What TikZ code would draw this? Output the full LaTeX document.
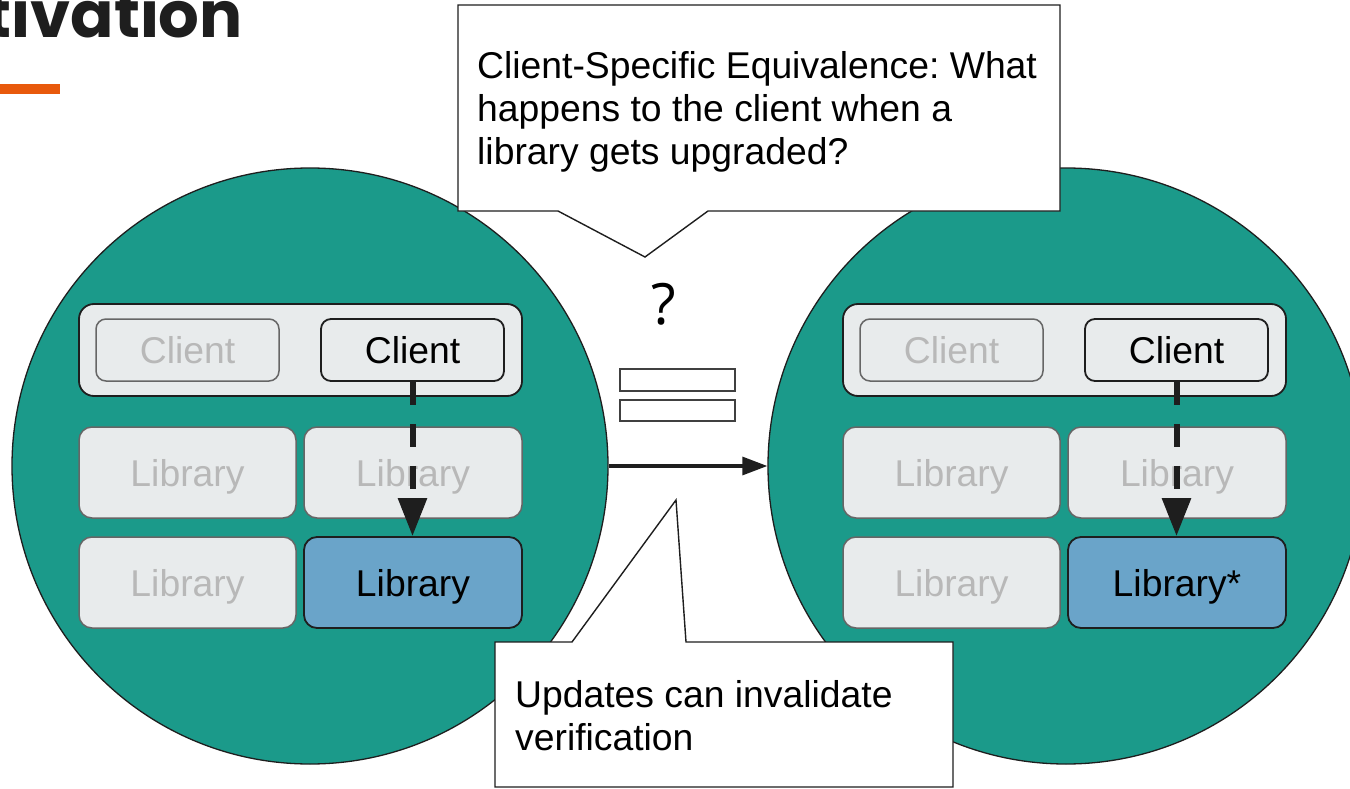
\documentclass[tikz,border=0pt]{standalone}
\usepackage{fontspec}
\setmainfont{Liberation Sans}
\newfontfamily\titlefont{Poppins}
\newfontfamily\qmarkfont{Open Sans}
\usetikzlibrary{arrows.meta}
\frenchspacing

\definecolor{teal}{RGB}{27,154,138}
\definecolor{boxfill}{RGB}{232,235,236}
\definecolor{fadetext}{RGB}{184,184,184}
\definecolor{fadeedge}{RGB}{102,102,102}
\definecolor{ink}{RGB}{30,30,30}
\definecolor{libblue}{RGB}{106,164,201}
\definecolor{accent}{RGB}{232,89,12}

\tikzset{
  label font/.style={font=\fontsize{37.3}{43}\selectfont},
  world/.style={circle, fill=teal, draw=ink, line width=1.3pt,
    minimum size=596pt, inner sep=0pt},
  container/.style={rectangle, rounded corners=15pt, draw=ink, fill=boxfill,
    line width=1.8pt, minimum width=443pt, minimum height=92pt, inner sep=0pt},
  modbox/.style={rectangle, rounded corners=13pt, draw=fadeedge, fill=boxfill,
    line width=1.5pt, text=fadetext, label font, inner sep=0pt,
    text height=27pt, text depth=0pt,
    minimum width=217pt, minimum height=91pt},
  clientbox/.style={modbox, rounded corners=10pt,
    minimum width=183pt, minimum height=62pt},
  active/.style={draw=ink, text=black, line width=1.8pt},
  picked/.style={active, fill=libblue},
  deplink/.style={draw=ink, line width=6pt, dash pattern=on 23pt off 19pt,
    -{Triangle[length=38pt,width=28pt]}},
  steplink/.style={draw=ink, line width=3.2pt,
    -{Triangle[length=25pt,width=18pt]}},
  bubble/.style={fill=white, draw=ink, line width=1.4pt, line join=miter},
  eqbar/.style={rectangle, draw=ink!85, fill=white, line width=1.6pt,
    minimum width=115pt, minimum height=21pt, inner sep=0pt},
  note/.style={label font, text=black, align=left, inner sep=0pt}
}

\begin{document}
\begin{tikzpicture}[x=1pt, y=-1pt]
\useasboundingbox (0,0) rectangle (1350,789);
\fill[white] (0,0) rectangle (1350,789);

% slide heading and accent bar
\node[font=\titlefont\bfseries\fontsize{64}{64}\selectfont, text=ink,
  anchor=base east, inner sep=0pt] (title) at (243,38) {tivation};
\fill[accent] (0,84) rectangle (60,94);

% the two worlds
\node[world] (lc) at (310,466) {};
\node[world] (rc) at (1066,466) {};

% before the upgrade
\node[container] (lcont) at (300.5,350) {};
\node[clientbox] (lcg) at (187.5,350) {Client};
\node[clientbox, active] (lcli) at (412.5,350) {Client};
\node[modbox] (l11) at (187.5,472.5) {Library};
\node[modbox, minimum width=218pt] (l12) at (413,472.5) {Library};
\node[modbox] (l21) at (187.5,582.5) {Library};
\node[modbox, picked, minimum width=218pt] (l22) at (413,582.5) {Library};
\draw[deplink] (lcli.south) -- (lcli.south |- l22.north);

% after the upgrade
\node[container] (rcont) at (1064.5,350) {};
\node[clientbox] (rcg) at (951.5,350) {Client};
\node[clientbox, active] (rcli) at (1176.5,350) {Client};
\node[modbox] (r11) at (951.5,472.5) {Library};
\node[modbox, minimum width=218pt] (r12) at (1177,472.5) {Library};
\node[modbox] (r21) at (951.5,582.5) {Library};
\node[modbox, picked, minimum width=218pt] (r22) at (1177,582.5) {Library*};
\draw[deplink] (rcli.south) -- (rcli.south |- r22.north);

% upgrade step and the equivalence question
\draw[steplink] (lc.east) -- (rc.west);
\node[font=\qmarkfont\fontsize{57}{57}\selectfont, inner sep=0pt] (qmark) at (664,304) {?};
\node[eqbar, minimum height=22pt] (eqtop) at (677.5,380) {};
\node[eqbar] (eqbot) at (677.5,410.5) {};

% speech bubbles
\draw[bubble] (458,5) -- (1060,5) -- (1060,211) -- (708,211) -- (645,257)
  -- (558,211) -- (458,211) -- cycle;
\node[note, anchor=north west] (askq) at (477,51)
  {Client-Specific Equivalence: What\\happens to the client when a\\library gets upgraded?};

\draw[bubble] (495,642) -- (572,642) -- (676,500) -- (686,642) -- (953,642)
  -- (953,787) -- (495,787) -- cycle;
\node[note, anchor=north west] (warn) at (515,680)
  {Updates can invalidate\\verification};
\end{tikzpicture}
\end{document}
